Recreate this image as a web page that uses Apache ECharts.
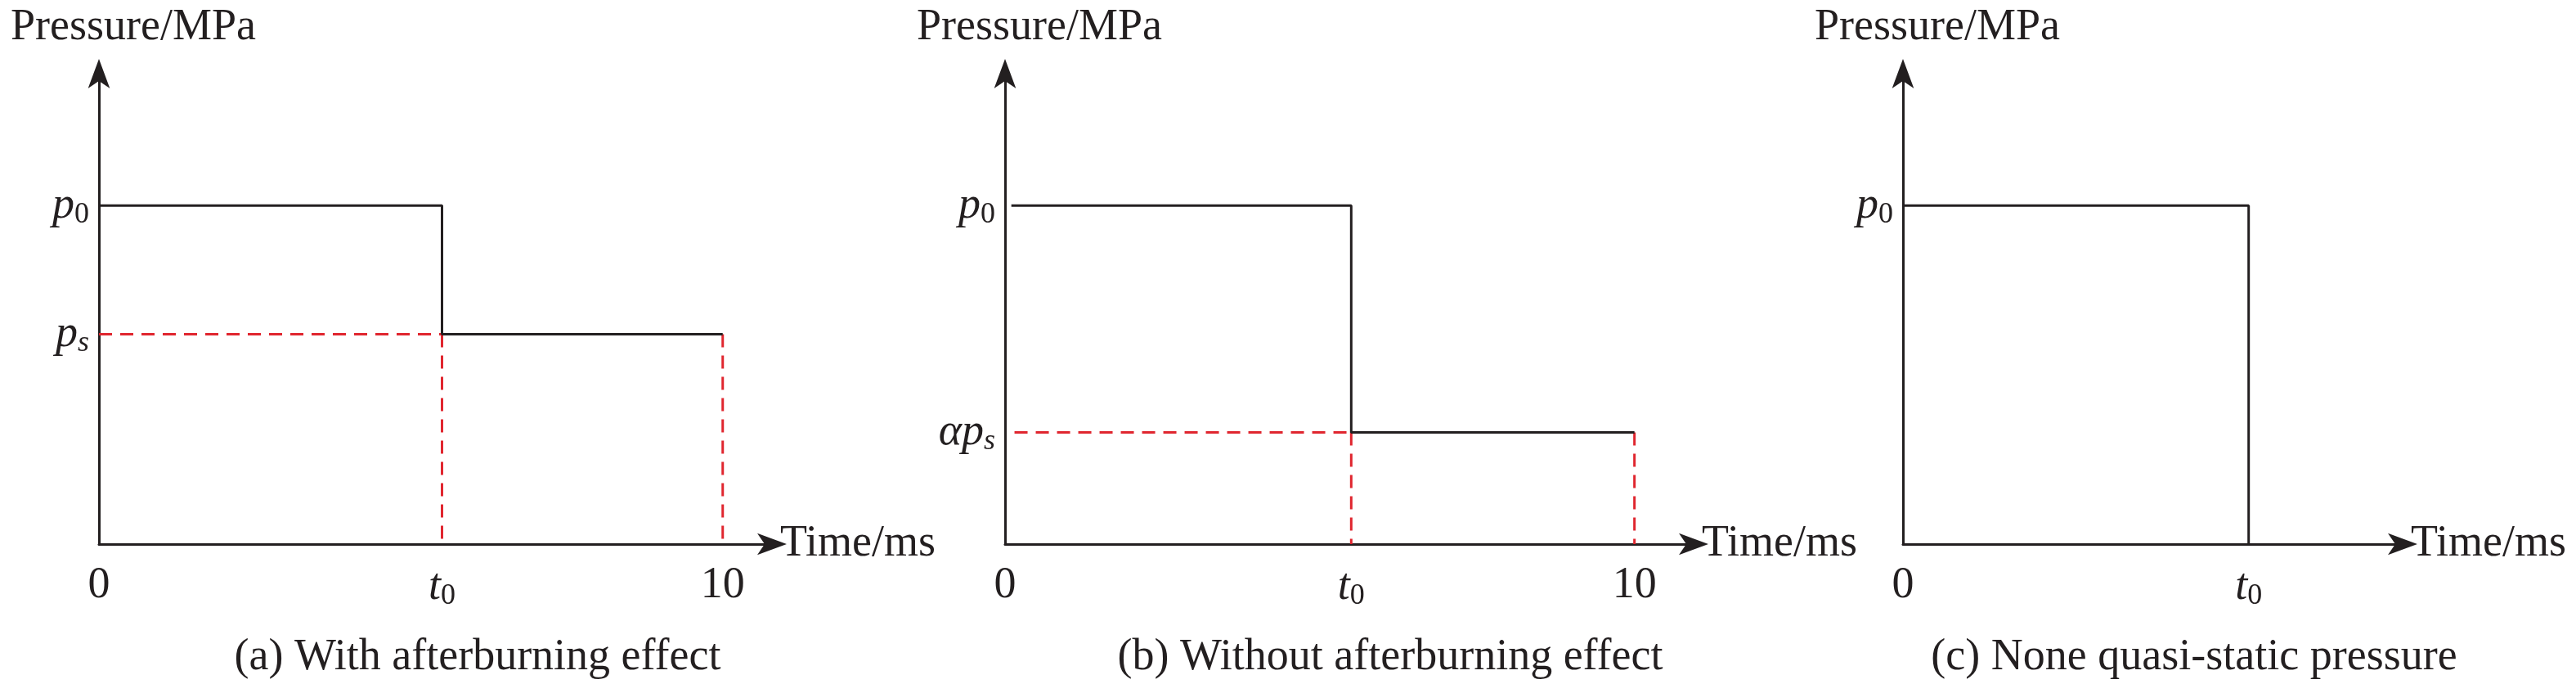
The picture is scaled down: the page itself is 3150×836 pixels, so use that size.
<!DOCTYPE html>
<html>
<head>
<meta charset="utf-8">
<script src="https://cdn.jsdelivr.net/npm/echarts@6/dist/echarts.min.js"></script>
<style>
html,body{margin:0;padding:0;background:#fff;}
#chart{width:3150px;height:836px;}
</style>
</head>
<body>
<div id="chart"></div>
<script>
// schematic values (p0 = 1, time in ms)
var t0 = 5.5;
var tEnd = 10;
var p0 = 1;
var psA = 0.62;   // p_s, with afterburning
var psB = 0.33;   // alpha*p_s, without afterburning
var xTicksAB = [0, t0, tEnd];
var xTicksC = [0, t0];
var captions = ["(a) With afterburning effect", "(b) Without afterburning effect", "(c) None quasi-static pressure"];

var blackA = [[0, p0], [t0, p0], [t0, psA], [tEnd, psA]];
var blackB = [[0, p0], [t0, p0], [t0, psB], [tEnd, psB]];
var blackC = [[0, p0], [t0, p0], [t0, 0]];

var FONT = "Liberation Serif";
var INK = "#231f20";
var RED = "#e0262f";

var panels = [
    {left: 121, width: 823, xMax: 10.79, ticks: xTicksAB, yTicks: [p0, psA], yNames: {}, cap: 579},
    {left: 1229, width: 842, xMax: 10.94, ticks: xTicksAB, yTicks: [p0, psB], cap: 1695},
    {left: 2327, width: 611, xMax: 7.95, ticks: xTicksC, yTicks: [p0], cap: 2678}
];

var rich = {
    it: {fontFamily: FONT, fontStyle: "italic", fontSize: 54, color: INK},
    al: {fontFamily: FONT, fontStyle: "italic", fontSize: 54, color: INK},
    sub: {fontFamily: FONT, fontSize: 36, color: INK, padding: [22, 0, 0, 0]},
    isub: {fontFamily: FONT, fontStyle: "italic", fontSize: 36, color: INK, padding: [22, 0, 0, 0]},
    n: {fontFamily: FONT, fontSize: 54, color: INK}
};

function xLabel(v){
    if (v === 0) return "{n|0}";
    if (v === tEnd) return "{n|10}";
    return "{it|t}{sub|0}";
}
function yLabel(v){
    if (v === p0) return "{it|p}{sub|0}";
    if (v === psA) return "{it|p}{isub|s}";
    return "{al|αp}{isub|s}";
}

var grids = [], xAxes = [], yAxes = [], titles = [], series = [];
panels.forEach(function(p, i){
    grids.push({left: p.left, width: p.width, top: 90, height: 575});
    xAxes.push({
        type: "value", gridIndex: i, min: 0, max: p.xMax,
        name: "Time/ms", nameLocation: "end", nameGap: 10,
        nameTextStyle: {fontFamily: FONT, fontSize: 54, color: INK},
        axisLine: {show: true, symbol: ["none", "arrow"], symbolSize: [20, 36], symbolOffset: [0, 18],
            lineStyle: {color: INK, width: 3}},
        axisTick: {show: false},
        splitLine: {show: false},
        axisLabel: {customValues: p.ticks, margin: 24, formatter: xLabel, rich: rich}
    });
    yAxes.push({
        type: "value", gridIndex: i, min: 0, max: 1.39,
        axisLine: {show: true, symbol: ["none", "arrow"], symbolSize: [20, 36], symbolOffset: [0, 18],
            lineStyle: {color: INK, width: 3}},
        axisTick: {show: false},
        splitLine: {show: false},
        axisLabel: {customValues: p.yTicks, margin: 12, formatter: yLabel, rich: rich}
    });
    titles.push({text: "Pressure/MPa", left: p.left - 113, top: 2,
        textStyle: {fontFamily: FONT, fontSize: 54, fontWeight: "normal", color: INK}});
    titles.push({text: captions[i], left: p.cap, top: 772, textAlign: "center",
        textStyle: {fontFamily: FONT, fontSize: 54, fontWeight: "normal", color: INK}});
});

function line(data, idx, color, dashed){
    return {
        type: "line", xAxisIndex: idx, yAxisIndex: idx, data: data,
        symbol: "none", silent: true, z: dashed ? 3 : 4,
        lineStyle: {color: color, width: 3, type: dashed ? [16, 10] : "solid"}
    };
}

series.push(line([[0, psA], [t0, psA]], 0, RED, true));
series.push(line([[t0, psA], [t0, 0]], 0, RED, true));
series.push(line([[tEnd, psA], [tEnd, 0]], 0, RED, true));
series.push(line(blackA, 0, INK, false));
series.push(line([[0.15, psB], [t0, psB]], 1, RED, true));
series.push(line([[t0, psB], [t0, 0]], 1, RED, true));
series.push(line([[tEnd, psB], [tEnd, 0]], 1, RED, true));
series.push(line([[0.1, p0], [t0, p0], [t0, psB], [tEnd, psB]], 1, INK, false));
series.push(line(blackC, 2, INK, false));

var myChart = echarts.init(document.getElementById("chart"));
myChart.setOption({
    animation: false,
    backgroundColor: "#fff",
    title: titles,
    grid: grids,
    xAxis: xAxes,
    yAxis: yAxes,
    series: series
});
</script>
</body>
</html>
